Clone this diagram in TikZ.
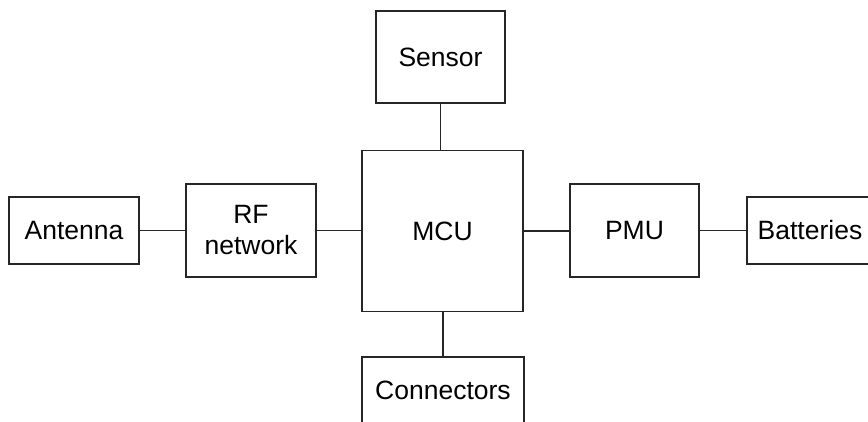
\documentclass[tikz,border=0pt]{standalone}
\usepackage{fontspec}
\setmainfont{Liberation Sans}
\begin{document}
\begin{tikzpicture}[x=1pt,y=-1pt,
  blk/.style={draw=black!85,line width=1.2pt,rectangle,inner sep=0pt,align=center,
    font=\fontsize{26.5}{31}\selectfont},
  wire/.style={draw=black!85,line width=1.2pt}]
\useasboundingbox (0,0) rectangle (868,422);
\clip (0,0) rectangle (868,422);
\node[blk,minimum width=129pt,minimum height=92pt] (sensor) at (440.5,57) {Sensor};
\node[blk,minimum width=161pt,minimum height=161pt] (mcu) at (442.5,231) {MCU};
\node[blk,minimum width=130pt,minimum height=67pt] (antenna) at (74,230.5) {Antenna};
\node[blk,minimum width=130pt,minimum height=93pt] (rf) at (251,230.5) {RF\\network};
\node[blk,minimum width=129pt,minimum height=93pt] (pmu) at (634.5,230.5) {PMU};
\node[blk,minimum width=126pt,minimum height=67pt] (bat) at (810,230.5) {Batteries};
\node[blk,minimum width=162pt,minimum height=67pt] (conn) at (443,390.5) {Connectors};
\draw[wire] (sensor.south) -- (sensor.south |- mcu.north);
\draw[wire] (conn.north) -- (conn.north |- mcu.south);
\draw[wire] (antenna.east) -- (antenna.east -| rf.west);
\draw[wire] (rf.east) -- (rf.east -| mcu.west);
\draw[wire] (mcu.east) -- (mcu.east -| pmu.west);
\draw[wire] (pmu.east) -- (pmu.east -| bat.west);
\end{tikzpicture}
\end{document}
